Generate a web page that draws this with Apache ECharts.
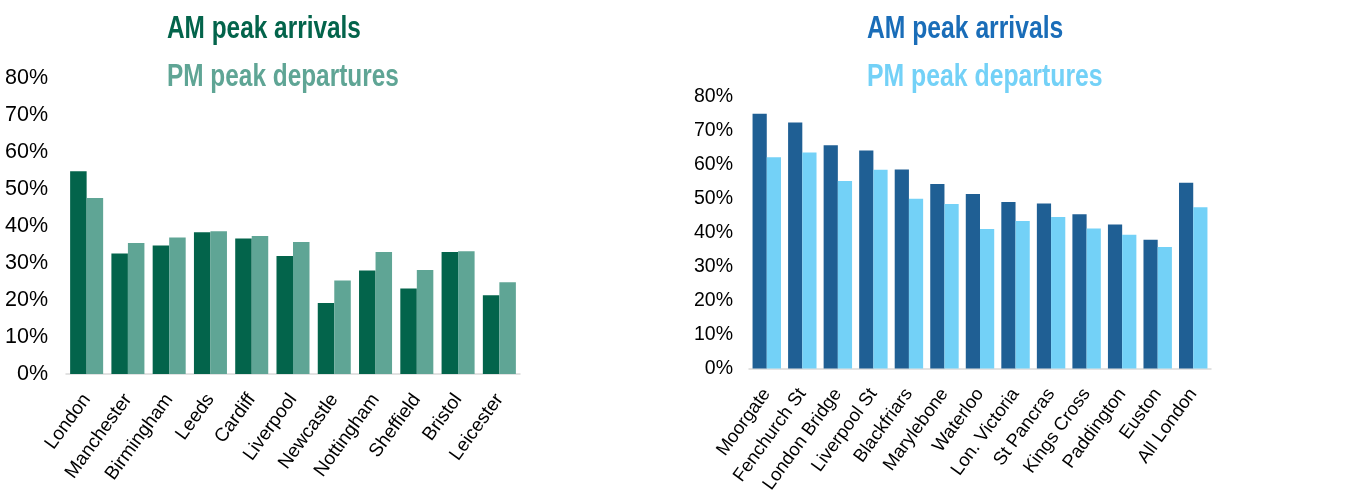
<!DOCTYPE html>
<html>
<head>
<meta charset="utf-8">
<script src="https://cdn.jsdelivr.net/npm/echarts@6/dist/echarts.min.js"></script>
<style>
  html, body { margin: 0; padding: 0; background: #ffffff; }
  #chart { width: 1359px; height: 496px; }
</style>
</head>
<body>
<div id="chart"></div>
<script>
// Share of daily trips made in the peaks: UK cities (left) and London terminals (right)
const cityNames = ['London', 'Manchester', 'Birmingham', 'Leeds', 'Cardiff', 'Liverpool',
  'Newcastle', 'Nottingham', 'Sheffield', 'Bristol', 'Leicester'];
const cityAmArrivals = [54.8, 32.6, 34.7, 38.3, 36.6, 31.9, 19.2, 28.0, 23.1, 33.0, 21.3];
const cityPmDepartures = [47.6, 35.4, 36.9, 38.6, 37.3, 35.7, 25.3, 33.0, 28.1, 33.2, 24.8];

const stationNames = ['Moorgate', 'Fenchurch St', 'London Bridge', 'Liverpool St', 'Blackfriars',
  'Marylebone', 'Waterloo', 'Lon. Victoria', 'St Pancras', 'Kings Cross', 'Paddington',
  'Euston', 'All London'];
const stationAmArrivals = [75.0, 72.4, 65.7, 64.2, 58.6, 54.3, 51.4, 49.0, 48.6, 45.4, 42.4, 37.9, 54.7];
const stationPmDepartures = [62.2, 63.6, 55.2, 58.5, 50.0, 48.4, 41.1, 43.4, 44.6, 41.2, 39.4, 35.8, 47.5];

const yTicks = { min: 0, max: 80, interval: 10 };
const seriesNames = ['AM peak arrivals', 'PM peak departures'];

const greenDark = '#03644b', greenLight = '#5fa595';
const blueDark = '#1f5f94', blueTitle = '#1a6db8', blueLight = '#73d1f7';

const sans = "'Liberation Sans', Arial, Helvetica, sans-serif";

function valueAxis(gridIndex, size, margin) {
  return {
    type: 'value', gridIndex, min: yTicks.min, max: yTicks.max, interval: yTicks.interval,
    axisLine: { show: false }, axisTick: { show: false }, splitLine: { show: false },
    axisLabel: { formatter: '{value}%', color: '#000', fontSize: size, fontFamily: sans, margin }
  };
}
function categoryAxis(gridIndex, data, size) {
  return {
    type: 'category', gridIndex, data,
    axisLine: { lineStyle: { color: '#d9d9d9', width: 1.5 } },
    axisTick: { show: false },
    axisLabel: { interval: 0, rotate: 54, color: '#000', fontSize: size, fontFamily: sans, margin: 22 }
  };
}
function bars(name, data, color, idx) {
  return {
    name, type: 'bar', data, xAxisIndex: idx, yAxisIndex: idx,
    barGap: '0%', barCategoryGap: '20%', itemStyle: { color }
  };
}
// Headings use a tall, tight bold face: stretched vertically around their midline
function heading(text, x, y, color, size) {
  return {
    type: 'text', x, y, scaleY: 1.3,
    style: { text, fill: color, font: 'bold ' + size + 'px ' + sans, verticalAlign: 'middle', align: 'left' }
  };
}

const chart = echarts.init(document.getElementById('chart'), null, { renderer: 'canvas' });
chart.setOption({
  animation: false,
  backgroundColor: '#ffffff',
  grid: [
    { left: 66, top: 78, width: 454, height: 296 },
    { left: 749, top: 96.7, width: 462, height: 276.6 }
  ],
  xAxis: [categoryAxis(0, cityNames, 19), categoryAxis(1, stationNames, 18.5)],
  yAxis: [valueAxis(0, 21.5, 18), valueAxis(1, 19.5, 16)],
  series: [
    bars(seriesNames[0], cityAmArrivals, greenDark, 0),
    bars(seriesNames[1], cityPmDepartures, greenLight, 0),
    bars(seriesNames[0], stationAmArrivals, blueDark, 1),
    bars(seriesNames[1], stationPmDepartures, blueLight, 1)
  ],
  graphic: [
    heading(seriesNames[0], 167, 29, greenDark, 24.4),
    heading(seriesNames[1], 167, 77, greenLight, 24.4),
    heading(seriesNames[0], 867, 29, blueTitle, 24.7),
    heading(seriesNames[1], 867, 77, blueLight, 24.8)
  ]
});
</script>
</body>
</html>
